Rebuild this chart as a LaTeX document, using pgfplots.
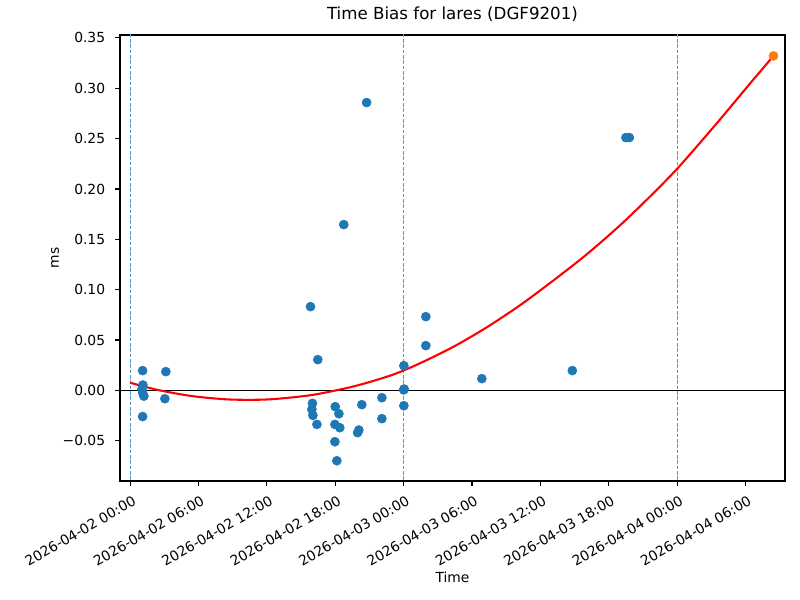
\documentclass[border=0pt]{standalone}
\usepackage{fontspec}
\setmainfont{DejaVu Sans}
\usepackage{pgfplots}
\pgfplotsset{compat=1.18}
\definecolor{C0}{HTML}{1F77B4}
\definecolor{C1}{HTML}{FF7F0E}
\begin{document}
\begin{tikzpicture}[x=1pt,y=1pt]
\useasboundingbox (-90,-89.25) rectangle (510,360.75);
\begin{axis}[
 at={(0,0)}, anchor=south west,
 scale only axis, width=498.75pt, height=334.5pt,
 xmin=-0.886, xmax=57.46, ymin=-0.0900, ymax=0.3529,
 axis line style={line width=0.83pt},
 tick align=outside, tick style={line width=0.83pt, black}, major tick length=3.65pt,
 xtick pos=bottom, ytick pos=left,
 xtick={0,6,12,18,24,30,36,42,48,54},
 xticklabels={2026-04-02 00:00,2026-04-02 06:00,2026-04-02 12:00,2026-04-02 18:00,2026-04-03 00:00,2026-04-03 06:00,2026-04-03 12:00,2026-04-03 18:00,2026-04-04 00:00,2026-04-04 06:00},
 xticklabel style={rotate=30, anchor=north east, inner sep=0pt, xshift=-2.2pt, yshift=-6.5pt, font=\fontsize{10.4}{12}\selectfont},
 ytick={-0.05,0,0.05,0.10,0.15,0.20,0.25,0.30,0.35},
 yticklabels={−0.05,0.00,0.05,0.10,0.15,0.20,0.25,0.30,0.35},
 yticklabel style={anchor=east, inner sep=0pt, xshift=-7.3pt, font=\fontsize{10.4}{12}\selectfont},
 title={Time Bias for lares (DGF9201)},
 title style={at={(axis description cs:0.5,1.0291)}, anchor=center, font=\fontsize{12.5}{14}\selectfont},
 xlabel={Time}, ylabel={ms},
 xlabel style={at={(axis description cs:0.5,-0.2152)}, anchor=center, font=\fontsize{10.4}{12}\selectfont},
 ylabel style={at={(axis description cs:-0.0977,0.5)}, anchor=center, font=\fontsize{10.4}{12}\selectfont},
 clip=true,
]
\addplot[only marks, mark=*, mark size=3.4pt, mark options={fill=C0, draw=C0, line width=0.4pt}] coordinates {
(1.10,0.0196) (3.14,0.0186) (1.12,0.0053) (1.04,0.0010) (1.10,-0.0023) (1.21,-0.0057) (3.05,-0.0083) (1.10,-0.0260)
(15.83,0.0831) (16.47,0.0305) (24.02,0.0245) (25.95,0.0732) (25.95,0.0444) (24.05,0.0013) (24.00,0.0005)
(16.00,-0.0129) (15.95,-0.0189) (16.04,-0.0248) (16.39,-0.0338)
(18.00,-0.0162) (18.32,-0.0232) (17.97,-0.0338) (18.40,-0.0371) (17.97,-0.0510) (18.14,-0.0699)
(20.33,-0.0142) (20.07,-0.0394) (19.96,-0.0420) (22.09,-0.0073) (22.09,-0.0281) (24.02,-0.0152)
(20.75,0.2858) (18.75,0.1646) (38.80,0.0196) (30.86,0.0116) (43.50,0.2510) (43.80,0.2510)
};
\addplot[C0!75!white, line width=0.6pt, dash pattern=on 2.8pt off 1.2pt] coordinates {(0,-1) (0,1)};
\addplot[C0!75!white, line width=0.6pt, dash pattern=on 2.8pt off 1.2pt] coordinates {(24,-1) (24,1)};
\addplot[C0!75!white, line width=0.6pt, dash pattern=on 2.8pt off 1.2pt] coordinates {(48,-1) (48,1)};
\addplot[black, line width=0.83pt] coordinates {(-5,0) (70,0)};
\addplot[red, line width=1.56pt, smooth, tension=0.5] coordinates {
(0,0.0076) (2.44,0.0004) (5.37,-0.0056) (8.29,-0.0088) (10.63,-0.0094) (12.68,-0.0086) (15.6,-0.0052)
(17.65,-0.0010) (19.98,0.0050) (22.91,0.0150) (25.3,0.0262) (28.32,0.0430) (31.25,0.0623) (34.17,0.0842)
(37.09,0.1087) (40.02,0.1347) (42.94,0.1634) (45.5,0.1912) (48.05,0.2207) (51.42,0.2645) (54.34,0.3040) (56.45,0.3321)
};
\addplot[only marks, mark=*, mark size=3.4pt, mark options={fill=C1, draw=C1, line width=0.4pt}] coordinates {(56.45,0.3321)};
\end{axis}
\end{tikzpicture}
\end{document}
